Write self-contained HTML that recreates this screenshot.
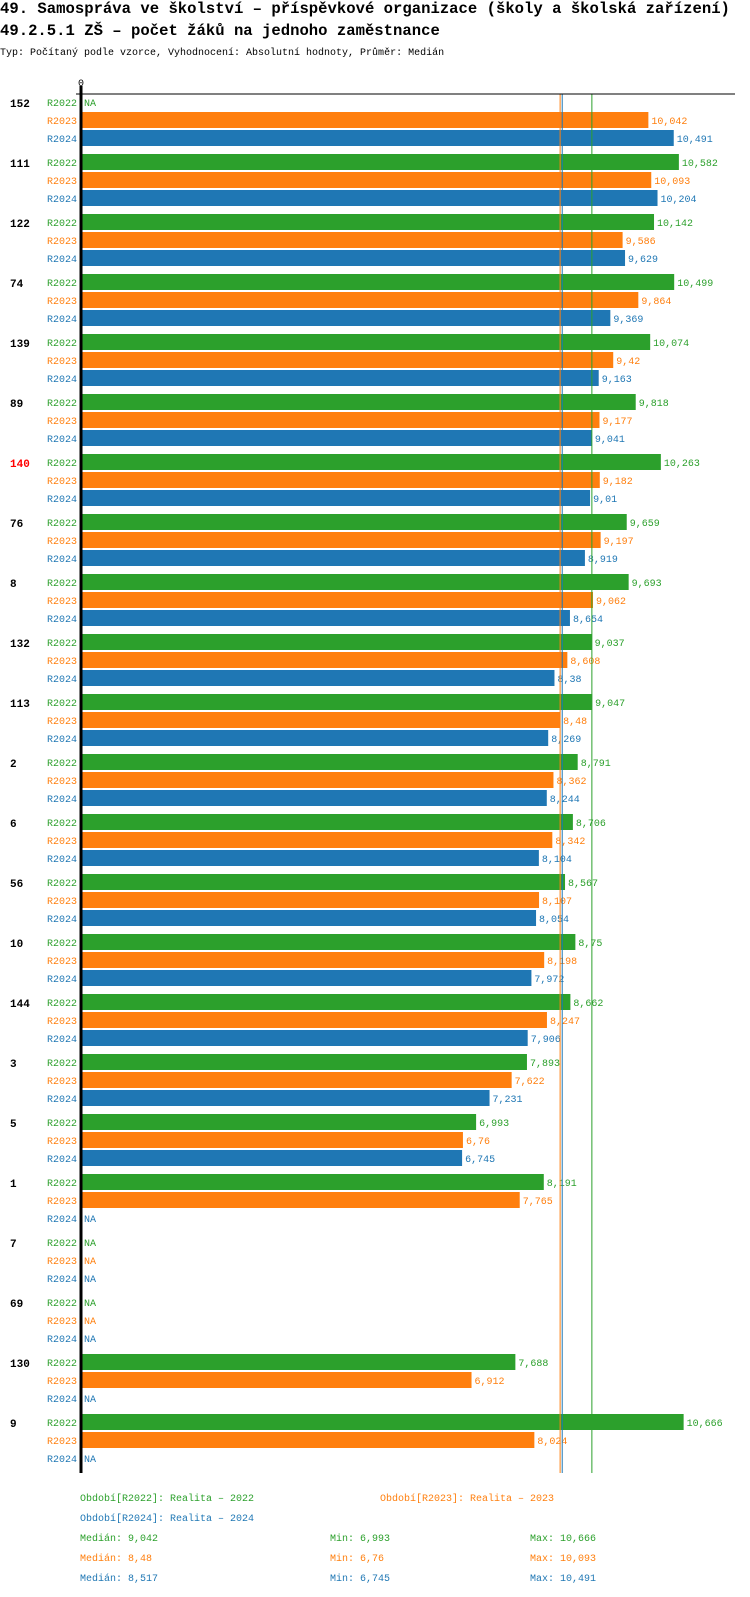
<!DOCTYPE html>
<html><head><meta charset="utf-8"><style>
body{margin:0;background:#fff;width:750px;height:1592px;overflow:hidden;font-family:"Liberation Mono",monospace}
svg text{font-family:"Liberation Mono",monospace}
</style></head><body>
<svg id="chart" width="750" height="1592" xmlns="http://www.w3.org/2000/svg">
<text x="0" y="13" font-size="15.6" font-weight="bold">49. Samospráva ve školství – příspěvkové organizace (školy a školská zařízení)</text>
<text x="0" y="35" font-size="15.6" font-weight="bold">49.2.5.1 ZŠ – počet žáků na jednoho zaměstnance</text>
<text x="0" y="55" font-size="10">Typ: Počítaný podle vzorce, Vyhodnocení: Absolutní hodnoty, Průměr: Medián</text>
<g id="marks"></g>
</svg>
<script>
const categories=["152","111","122","74","139","89","140","76","8","132","113","2","6","56","10","144","3","5","1","7","69","130","9"];
const r2022=[null,10.582,10.142,10.499,10.074,9.818,10.263,9.659,9.693,9.037,9.047,8.791,8.706,8.567,8.75,8.662,7.893,6.993,8.191,null,null,7.688,10.666];
const r2023=[10.042,10.093,9.586,9.864,9.42,9.177,9.182,9.197,9.062,8.608,8.48,8.362,8.342,8.107,8.198,8.247,7.622,6.76,7.765,null,null,6.912,8.024];
const r2024=[10.491,10.204,9.629,9.369,9.163,9.041,9.01,8.919,8.654,8.38,8.269,8.244,8.104,8.054,7.972,7.906,7.231,6.745,null,null,null,null,null];
const seriesNames=["R2022","R2023","R2024"];
const medians=[9.042,8.48,8.517];
const mins=[6.993,6.76,6.745];
const maxs=[10.666,10.093,10.491];
const highlighted="140";

const colors=["#2ca02c","#ff7f0e","#1f77b4"];
const X0=81,SCALE=56.5,TOP=94,GROUP=60,ROW=18,BARH=16;
const x=v=>X0+v*SCALE;
const fmt=v=>String(v).replace('.',',');
const NS="http://www.w3.org/2000/svg";
const g=document.getElementById('marks');
function mk(tag,attrs,text){const e=document.createElementNS(NS,tag);for(const k in attrs)e.setAttribute(k,attrs[k]);if(text!=null)e.textContent=text;g.appendChild(e);return e;}
const series=[r2022,r2023,r2024];
const bottom=TOP+categories.length*GROUP-1;
categories.forEach((c,i)=>{
  const gy=TOP+i*GROUP;
  const t=mk('text',{x:10,y:gy+13,'font-size':11,'font-weight':'bold',fill:c===highlighted?'#ff0000':'#000'},c);
  
  
  series.forEach((s,j)=>{
    const y=gy+j*ROW;
    const l=mk('text',{x:77,y:y+12,'font-size':10,fill:colors[j],'text-anchor':'end'},seriesNames[j]);
    
    
    const v=s[i];
    if(v==null){
      const n=mk('text',{x:84,y:y+12,'font-size':10,fill:colors[j]},'NA');
      
      
    }else{
      const b=mk('rect',{x:X0,y:y,width:x(v)-X0,height:BARH,fill:colors[j]});
      
      
      const vl=mk('text',{x:x(v)+3,y:y+12,'font-size':10,fill:colors[j]},fmt(v));
      
      
    }
  });
});
[1,2,0].forEach(j=>{
  const m=mk('line',{x1:x(medians[j]),x2:x(medians[j]),y1:TOP,y2:bottom,stroke:colors[j],'stroke-width':1});
  
  
});
const ax=mk('line',{x1:X0,x2:X0,y1:TOP-8,y2:bottom,stroke:'#000','stroke-width':3});


const tl=mk('line',{x1:76,x2:735,y1:TOP,y2:TOP,stroke:'#000','stroke-width':1});


const z=mk('text',{x:X0,y:86,'font-size':10,'text-anchor':'middle'},'0');


const legPos=[[80,1501],[380,1501],[80,1521]];
const legYears=["2022","2023","2024"];
legPos.forEach((p,j)=>{
  const e=mk('text',{x:p[0],y:p[1],'font-size':10,fill:colors[j]},'Období['+seriesNames[j]+']: Realita – '+legYears[j]);
  
  
});
[0,1,2].forEach(j=>{
  const y=1541+j*20;
  const a=mk('text',{x:80,y:y,'font-size':10,fill:colors[j]},'Medián: '+fmt(medians[j]));
  
  
  const b=mk('text',{x:330,y:y,'font-size':10,fill:colors[j]},'Min: '+fmt(mins[j]));
  
  
  const c=mk('text',{x:530,y:y,'font-size':10,fill:colors[j]},'Max: '+fmt(maxs[j]));
  
  
});
</script>
</body></html>
